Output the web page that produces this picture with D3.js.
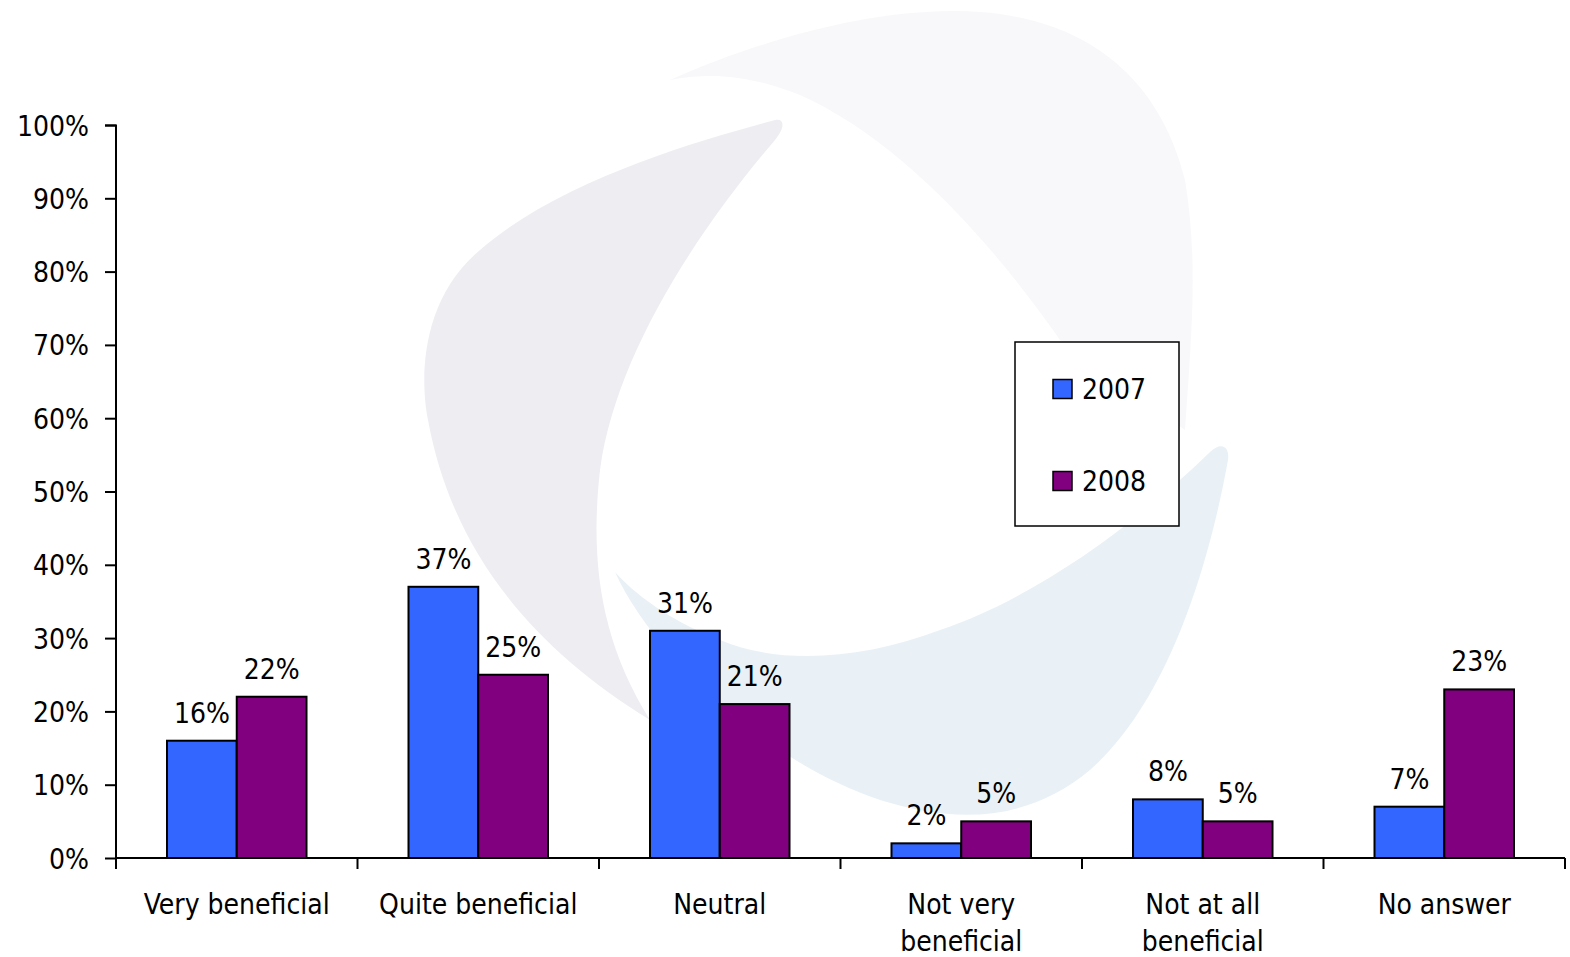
<!DOCTYPE html>
<html><head><meta charset="utf-8">
<script src="https://cdn.jsdelivr.net/npm/d3@7"></script>
<style>body{margin:0;background:#fff;}svg{display:block;}</style>
</head><body>
<svg id="c" width="1570" height="957"></svg>
<script>
const categories = [["Very beneficial"],["Quite beneficial"],["Neutral"],["Not very","beneficial"],["Not at all","beneficial"],["No answer"]];
const seriesNames = ["2007","2008"];
const values2007 = [16,37,31,2,8,7];
const values2008 = [22,25,21,5,5,23];
const yTicks = [0,10,20,30,40,50,60,70,80,90,100];
const colors = ["#3366ff","#800080"];

const svg = d3.select("#c");
const font = "'DejaVu Sans Condensed', 'DejaVu Sans'";
const fs = 28;

// watermark
const wm = svg.append("g");
wm.append("path").attr("fill","#f8f7fa")
  .attr("d","M670,80 C760,40 880,5 980,12 C1090,20 1160,80 1185,180 C1198,260 1192,330 1185,430 L1060,340 C990,240 900,140 800,95 C750,75 710,72 670,80 Z");
wm.append("path").attr("fill","#eeedf2")
  .attr("d","M775,120 C700,140 560,180 480,250 C420,300 420,380 428,420 C450,540 520,640 650,720 C600,640 590,560 600,470 C615,360 690,240 775,140 C785,128 785,118 775,120 Z");
wm.append("path").attr("fill","#e9f1f7")
  .attr("d","M615,572 C650,650 760,760 880,800 C960,825 1030,820 1090,770 C1170,700 1210,560 1228,460 C1230,445 1220,442 1210,452 C1130,530 1030,600 940,630 C860,660 780,665 720,640 C680,625 640,600 615,572 Z");

const x0 = d3.scaleBand().domain(d3.range(categories.length)).range([116,1565]).paddingInner(0).paddingOuter(0);
const x1 = d3.scaleBand().domain(seriesNames).range([51, x0.bandwidth()-51]);
const y = d3.scaleLinear().domain([0,100]).range([858,125]);

// y axis
const yAxis = d3.axisLeft(y).tickValues(yTicks).tickFormat(d=>d+"%").tickSize(11).tickPadding(16);
const ya = svg.append("g").attr("transform","translate(116,0)").call(yAxis);
ya.select(".domain").attr("stroke","#000").attr("stroke-width",2).attr("d","M-11,125.5H0V858");
ya.selectAll(".tick line").attr("stroke","#000").attr("stroke-width",2);
ya.selectAll(".tick text").attr("font-family",font).attr("font-size",fs).attr("fill","#000").attr("dy","0.36em");

// bars
const groups = svg.append("g").selectAll("g").data(categories).join("g")
  .attr("transform",(d,i)=>`translate(${x0(i)},0)`);
const data = (i)=>[{s:"2007",v:values2007[i],c:colors[0]},{s:"2008",v:values2008[i],c:colors[1]}];
groups.each(function(d,i){
  const g = d3.select(this);
  g.selectAll("rect").data(data(i)).join("rect")
    .attr("x",e=>x1(e.s)).attr("width",x1.bandwidth())
    .attr("y",e=>y(e.v)).attr("height",e=>y(0)-y(e.v))
    .attr("fill",e=>e.c).attr("stroke","#000").attr("stroke-width",2);
  g.selectAll("text.val").data(data(i)).join("text").attr("class","val")
    .attr("x",e=>x1(e.s)+x1.bandwidth()/2).attr("y",e=>y(e.v)-18)
    .attr("text-anchor","middle").attr("font-family",font).attr("font-size",fs)
    .text(e=>e.v+"%");
});

// x axis
const xa = svg.append("g").attr("transform","translate(0,858)");
xa.append("line").attr("x1",116).attr("x2",1565).attr("y1",0).attr("y2",0).attr("stroke","#000").attr("stroke-width",2);
xa.selectAll("line.tk").data(d3.range(categories.length+1)).join("line").attr("class","tk")
  .attr("x1",i=>116+i*x0.bandwidth()).attr("x2",i=>116+i*x0.bandwidth())
  .attr("y1",0).attr("y2",11).attr("stroke","#000").attr("stroke-width",2);
xa.selectAll("text.cat").data(categories).join("text").attr("class","cat")
  .attr("x",(d,i)=>x0(i)+x0.bandwidth()/2).attr("y",56)
  .attr("text-anchor","middle").attr("font-family",font).attr("font-size",fs)
  .each(function(d){
    const t = d3.select(this);
    d.forEach((line,k)=>t.append("tspan").attr("x",t.attr("x")).attr("dy",k?37:0).text(line));
  });

// legend
const lg = svg.append("g");
lg.append("rect").attr("x",1015).attr("y",342).attr("width",164).attr("height",184)
  .attr("fill","#fff").attr("stroke","#000").attr("stroke-width",1.5);
seriesNames.forEach((s,i)=>{
  const cy = 389 + i*92;
  lg.append("rect").attr("x",1053).attr("y",cy-9.5).attr("width",19).attr("height",19)
    .attr("fill",colors[i]).attr("stroke","#000").attr("stroke-width",1.5);
  lg.append("text").attr("x",1082).attr("y",cy).attr("dy","0.36em")
    .attr("font-family",font).attr("font-size",fs).text(s);
});
</script>
</body></html>
